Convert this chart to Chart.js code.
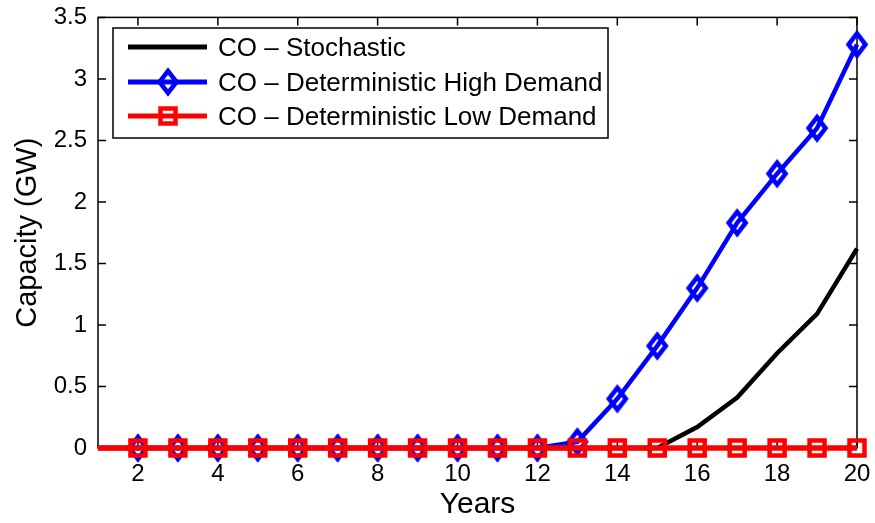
<!DOCTYPE html>
<html>
<head>
<meta charset="utf-8">
<script src="https://cdn.jsdelivr.net/npm/chart.js@4.4.1/dist/chart.umd.min.js"></script>
<style>
  html, body { margin: 0; padding: 0; background: #fff; }
  #wrap { width: 875px; height: 523px; position: relative; }
</style>
</head>
<body>
<div id="wrap"><canvas id="myChart" width="875" height="523"></canvas></div>
<script>
const years = [1, 2, 3, 4, 5, 6, 7, 8, 9, 10, 11, 12, 13, 14, 15, 16, 17, 18, 19, 20];
const stochastic = [0, 0, 0, 0, 0, 0, 0, 0, 0, 0, 0, 0, 0, 0, 0, 0.17, 0.41, 0.77, 1.09, 1.62];
const highDemand = [0, 0, 0, 0, 0, 0, 0, 0, 0, 0, 0, 0, 0.05, 0.40, 0.83, 1.30, 1.83, 2.23, 2.60, 3.28];
const lowDemand = [0, 0, 0, 0, 0, 0, 0, 0, 0, 0, 0, 0, 0, 0, 0, 0, 0, 0, 0, 0];
const xTicks = [2, 4, 6, 8, 10, 12, 14, 16, 18, 20];
const yTicks = [0, 0.5, 1, 1.5, 2, 2.5, 3, 3.5];
const seriesNames = ['CO \u2013 Stochastic', 'CO \u2013 Deterministic High Demand', 'CO \u2013 Deterministic Low Demand'];

const FONT = '"Liberation Sans", Arial, Helvetica, sans-serif';

function pts(vals) {
    return years.map((x, i) => ({ x: x, y: vals[i] }));
}

// no marker on the first year, like the original
const markerRadius = r => years.map((x, i) => i === 0 ? 0 : r);

// hollow diamond, a bit taller than wide
function diamond(color) {
    const c = document.createElement('canvas');
    c.width = 26; c.height = 32;
    const g = c.getContext('2d');
    g.strokeStyle = color;
    g.lineWidth = 4.5;
    g.beginPath();
    g.moveTo(13, 5); g.lineTo(21.5, 16); g.lineTo(13, 27); g.lineTo(4.5, 16);
    g.closePath();
    g.stroke();
    return c;
}
const blueDiamond = diamond('#0000ff');

// axes box with inward ticks, drawn under the data
const frame = {
    id: 'frame',
    beforeDatasetsDraw(chart) {
        const ctx = chart.ctx;
        const a = chart.chartArea;
        const xs = chart.scales.x, ys = chart.scales.y;
        ctx.save();
        ctx.strokeStyle = '#000';
        ctx.lineWidth = 1.5;
        ctx.strokeRect(a.left, a.top, a.right - a.left, a.bottom - a.top);
        ctx.beginPath();
        xTicks.forEach(v => {
            const px = xs.getPixelForValue(v);
            ctx.moveTo(px, a.bottom); ctx.lineTo(px, a.bottom - 8);
            ctx.moveTo(px, a.top); ctx.lineTo(px, a.top + 8);
        });
        yTicks.forEach(v => {
            const py = ys.getPixelForValue(v);
            ctx.moveTo(a.left, py); ctx.lineTo(a.left + 8, py);
            ctx.moveTo(a.right, py); ctx.lineTo(a.right - 8, py);
        });
        ctx.stroke();
        ctx.restore();
    }
};

// boxed legend in the upper left of the axes
const boxLegend = {
    id: 'boxLegend',
    afterDraw(chart) {
        const ctx = chart.ctx;
        const lx = 113, ly = 28, lw = 495, lh = 110;
        ctx.save();
        ctx.fillStyle = '#fff';
        ctx.fillRect(lx, ly, lw, lh);
        ctx.strokeStyle = '#000';
        ctx.lineWidth = 1.5;
        ctx.strokeRect(lx, ly, lw, lh);
        const rows = [47, 82, 116];
        const colors = ['#000000', '#0000ff', '#ff0000'];
        rows.forEach((y, i) => {
            ctx.strokeStyle = colors[i];
            ctx.lineWidth = 5;
            ctx.beginPath();
            ctx.moveTo(128, y); ctx.lineTo(207, y);
            ctx.stroke();
            if (i === 1) {
                ctx.drawImage(blueDiamond, 168 - 13, y - 16);
            }
            if (i === 2) {
                ctx.lineWidth = 4.5;
                ctx.strokeRect(168 - 7.5, y - 7.5, 15, 15);
            }
            ctx.fillStyle = '#000';
            ctx.font = '26px ' + FONT;
            ctx.textBaseline = 'middle';
            ctx.textAlign = 'left';
            ctx.fillText(seriesNames[i], 218, y + 2);
        });
        ctx.restore();
    }
};

const ctx = document.getElementById('myChart').getContext('2d');
const myChart = new Chart(ctx, {
    type: 'line',
    data: {
        datasets: [{
            label: seriesNames[2],
            data: pts(lowDemand),
            borderColor: '#ff0000',
            borderWidth: 5.5,
            pointStyle: 'rect',
            pointRadius: markerRadius(10.6),
            pointBorderWidth: 4.5,
            pointBorderColor: '#ff0000',
            pointBackgroundColor: 'rgba(0,0,0,0)',
            clip: false,
            order: 0
        }, {
            label: seriesNames[1],
            data: pts(highDemand),
            borderColor: '#0000ff',
            borderWidth: 4.5,
            pointStyle: blueDiamond,
            pointRadius: markerRadius(12),
            clip: false,
            order: 1
        }, {
            label: seriesNames[0],
            data: pts(stochastic),
            borderColor: '#000000',
            borderWidth: 4.5,
            pointRadius: 0,
            clip: false,
            order: 2
        }]
    },
    options: {
        responsive: false,
        animation: false,
        layout: { padding: { left: 0, right: 18, top: 4, bottom: 0 } },
        plugins: {
            legend: { display: false },
            tooltip: { enabled: false }
        },
        scales: {
            x: {
                type: 'linear',
                min: 1,
                max: 20,
                afterBuildTicks: s => { s.ticks = xTicks.map(v => ({ value: v })); },
                afterFit: s => { s.height = 75; },
                grid: { display: false },
                border: { display: false },
                ticks: {
                    color: '#000',
                    padding: 4,
                    font: { family: FONT, size: 24 },
                    maxRotation: 0,
                    callback: v => String(v)
                },
                title: {
                    display: true,
                    text: 'Years',
                    color: '#000',
                    padding: { top: 0, bottom: 0 },
                    font: { family: FONT, size: 30 }
                }
            },
            y: {
                min: 0,
                max: 3.5,
                afterBuildTicks: s => { s.ticks = yTicks.map(v => ({ value: v })); },
                afterFit: s => { s.width = 98; },
                grid: { display: false },
                border: { display: false },
                ticks: {
                    color: '#000',
                    padding: 3,
                    font: { family: FONT, size: 24 },
                    callback: v => String(v)
                },
                title: {
                    display: true,
                    text: 'Capacity (GW)',
                    color: '#000',
                    padding: { top: 11, bottom: 0 },
                    font: { family: FONT, size: 29 }
                }
            }
        }
    },
    plugins: [frame, boxLegend]
});
</script>
</body>
</html>
